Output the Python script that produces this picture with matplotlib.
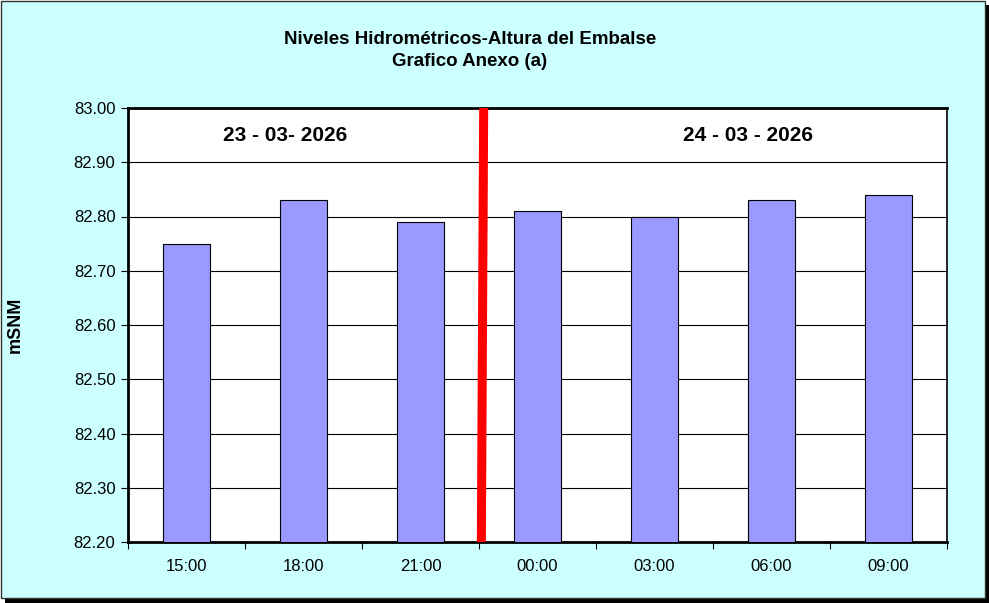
import matplotlib.pyplot as plt
from matplotlib.patches import Rectangle
from matplotlib.ticker import FixedLocator, FormatStrFormatter

horas = ["15:00", "18:00", "21:00", "00:00", "03:00", "06:00", "09:00"]
niveles = [82.75, 82.83, 82.79, 82.81, 82.80, 82.83, 82.84]
fechas = ["23 - 03- 2026", "24 - 03 - 2026"]
y_ticks = [82.2 + 0.1 * i for i in range(9)]

plt.rcParams["font.family"] = ["Liberation Sans", "DejaVu Sans"]

W, H = 989, 603
fig = plt.figure(figsize=(W / 100, H / 100), dpi=100)
fig.patch.set_facecolor("white")

# frame with shadow
fig.patches.append(Rectangle((5 / W, 0), 984 / W, 598 / H, transform=fig.transFigure,
                             facecolor="black", edgecolor="none", zorder=-3))
fig.patches.append(Rectangle((0.5 / W, 5 / H), 984 / W, 597 / H, transform=fig.transFigure,
                             facecolor="#CCFFFF", edgecolor="#333333", linewidth=1, zorder=-2))

ax = fig.add_axes([128 / W, 61 / H, 819 / W, 434 / H])
ax.set_zorder(2)
ax.set_facecolor("white")

x = list(range(len(horas)))
ax.bar(x, niveles, width=0.4, color="#9999FF", edgecolor="black",
       linewidth=0.8, zorder=3)

ax.set_xlim(-0.5, len(horas) - 0.5)
ax.set_ylim(82.2, 83.0)
ax.yaxis.set_major_locator(FixedLocator(y_ticks))
ax.yaxis.set_major_formatter(FormatStrFormatter("%.2f"))
ax.grid(axis="y", color="black", linewidth=0.8, zorder=1)

ax.set_xticks(x)
ax.set_xticklabels(horas, fontsize=12)
ax.xaxis.set_minor_locator(FixedLocator([i + 0.5 for i in range(-1, len(horas))]))
ax.tick_params(axis="x", which="major", length=0, pad=12)
ax.tick_params(axis="x", which="minor", length=5, width=0.8)
ax.tick_params(axis="y", length=5, width=0.8, labelsize=12, pad=4)

for s in ax.spines.values():
    s.set_linewidth(1.2)
ax.spines["left"].set_linewidth(2)
ax.spines["bottom"].set_linewidth(2)
ax.spines["top"].set_linewidth(2)

# separator between days
ax.plot([2.52, 2.54], [82.2, 83.0], color="red", linewidth=6.5, zorder=4,
        solid_capstyle="butt", clip_on=False)

ax.text(0.84, 82.95, fechas[0], ha="center", va="center", fontsize=15, fontweight="bold")
ax.text(4.8, 82.95, fechas[1], ha="center", va="center", fontsize=15, fontweight="bold")

ax.set_ylabel("mSNM", fontsize=13, fontweight="bold")
ax.yaxis.set_label_coords(-0.127, 0.5)

fig.text(470 / W, 1 - 39 / H, "Niveles Hidrométricos-Altura del Embalse",
         ha="center", va="center", fontsize=13.5, fontweight="bold")
fig.text(470 / W, 1 - 61 / H, "Grafico Anexo (a)",
         ha="center", va="center", fontsize=13.5, fontweight="bold")

fig.savefig("out.png", dpi=100)
